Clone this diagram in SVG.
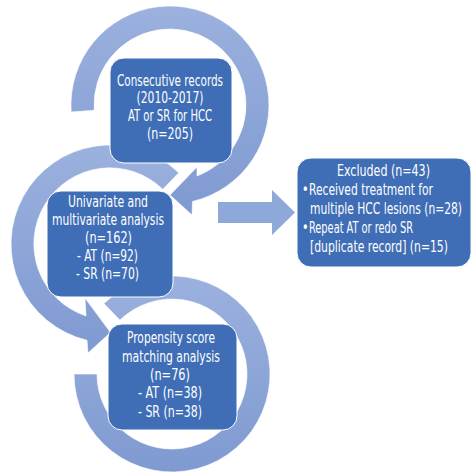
<svg xmlns="http://www.w3.org/2000/svg" width="473" height="472" viewBox="0 0 473 472">
  <defs>
    <linearGradient id="ringGrad" x1="0" y1="0" x2="0" y2="1">
      <stop offset="0" stop-color="#9BB1DE"/>
      <stop offset="1" stop-color="#7F9AD1"/>
    </linearGradient>
    <style>
      .ring { fill: url(#ringGrad); stroke: #ffffff; stroke-width: 0.6; }
      .box { fill: #3F6EB6; stroke: #ffffff; stroke-width: 1; }
      .arrow { fill: #8EA8D9; }
      .t { font-family: "DejaVu Sans Condensed", "Liberation Sans Narrow", "Liberation Sans", sans-serif; font-size: 16px; fill: #ffffff; }
      .c { text-anchor: middle; }
    </style>
  </defs>
  <rect width="473" height="472" fill="#ffffff"/>

  <g id="connectors">
    <path id="ring1" class="ring" d="M71.2,111.9 A99,99 0 1 1 192.5,201.4 L192,215 L170,195 L197,167 L197,176 A76,76 0 1 0 94.2,110.3 Z"/>
    <path id="ring2" class="ring" d="M178.8,172.8 A99,99 0 1 0 87,340.3 L88,353 L110.5,332.5 L85,298 L86,316 A76,76 0 1 1 162.8,189.3 Z"/>
    <path id="ring3" class="ring" d="M103.9,303.5 A98,98 0 1 1 74,374 L97,374 A75,75 0 1 0 119.9,320.1 Z"/>
    <polygon id="exclArrow" class="arrow" points="218,202 272,202 272,190 295,212.5 272,235 272,223 218,223"/>
  </g>

  <g id="node1">
    <rect class="box" x="110" y="58" width="122" height="105" rx="14"/>
    <text class="t c" transform="translate(170,86) scale(0.78,1)" textLength="135.9" lengthAdjust="spacingAndGlyphs">Consecutive records</text>
    <text class="t c" transform="translate(170,103) scale(0.78,1)" textLength="85.9" lengthAdjust="spacingAndGlyphs">(2010-2017)</text>
    <text class="t c" transform="translate(170,121) scale(0.78,1)" textLength="107.7" lengthAdjust="spacingAndGlyphs">AT or SR for HCC</text>
    <text class="t c" transform="translate(170,139) scale(0.78,1)" textLength="59" lengthAdjust="spacingAndGlyphs">(n=205)</text>
  </g>

  <g id="node2">
    <rect class="box" x="47" y="191" width="126" height="106" rx="14"/>
    <text class="t c" transform="translate(108,207) scale(0.78,1)" textLength="102.6" lengthAdjust="spacingAndGlyphs">Univariate and</text>
    <text class="t c" transform="translate(108,225) scale(0.78,1)" textLength="143.6" lengthAdjust="spacingAndGlyphs">multivariate analysis</text>
    <text class="t c" transform="translate(108.5,243) scale(0.78,1)" textLength="60.3" lengthAdjust="spacingAndGlyphs">(n=162)</text>
    <text class="t c" transform="translate(107.5,261) scale(0.78,1)" textLength="78.2" lengthAdjust="spacingAndGlyphs">- AT (n=92)</text>
    <text class="t c" transform="translate(107.5,279) scale(0.78,1)" textLength="80.8" lengthAdjust="spacingAndGlyphs">- SR (n=70)</text>
  </g>

  <g id="node3">
    <rect class="box" x="108" y="324" width="129" height="106" rx="14"/>
    <text class="t c" transform="translate(171,343) scale(0.78,1)" textLength="112.8" lengthAdjust="spacingAndGlyphs">Propensity score</text>
    <text class="t c" transform="translate(171,362) scale(0.78,1)" textLength="125.6" lengthAdjust="spacingAndGlyphs">matching analysis</text>
    <text class="t c" transform="translate(170,380) scale(0.78,1)" textLength="51.3" lengthAdjust="spacingAndGlyphs">(n=76)</text>
    <text class="t c" transform="translate(170,398) scale(0.78,1)" textLength="82.1" lengthAdjust="spacingAndGlyphs">- AT (n=38)</text>
    <text class="t c" transform="translate(170,417) scale(0.78,1)" textLength="82.1" lengthAdjust="spacingAndGlyphs">- SR (n=38)</text>
  </g>

  <g id="node4">
    <rect class="box" x="297" y="158" width="174" height="109" rx="14"/>
    <text class="t c" transform="translate(383.5,176) scale(0.78,1)" textLength="119.2" lengthAdjust="spacingAndGlyphs">Excluded (n=43)</text>
    <text class="t" transform="translate(302,195) scale(0.78,1)">•</text>
    <text class="t" transform="translate(309,195) scale(0.78,1)" textLength="159" lengthAdjust="spacingAndGlyphs">Received treatment for</text>
    <text class="t" transform="translate(310,214) scale(0.78,1)" textLength="194.9" lengthAdjust="spacingAndGlyphs">multiple HCC lesions (n=28)</text>
    <text class="t" transform="translate(302,233) scale(0.78,1)">•</text>
    <text class="t" transform="translate(309,233) scale(0.78,1)" textLength="133.3" lengthAdjust="spacingAndGlyphs">Repeat AT or redo SR</text>
    <text class="t" transform="translate(310,252) scale(0.78,1)" textLength="176.9" lengthAdjust="spacingAndGlyphs">[duplicate record] (n=15)</text>
  </g>
</svg>
